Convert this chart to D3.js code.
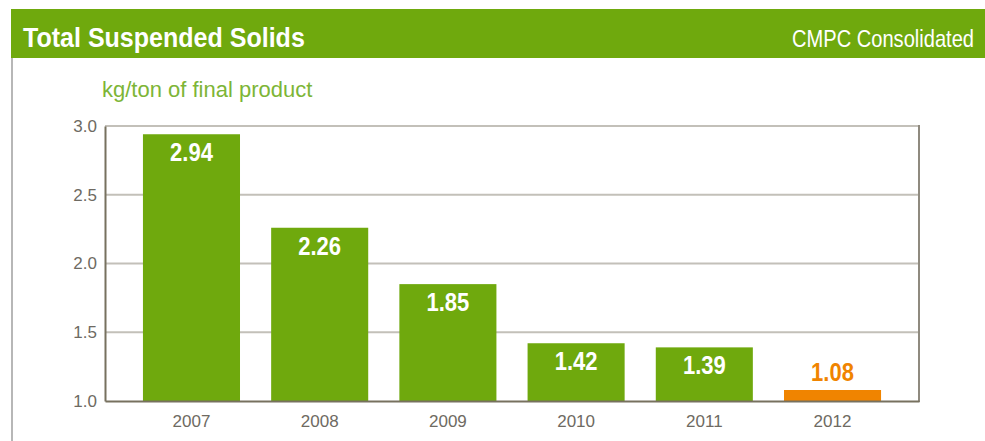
<!DOCTYPE html>
<html>
<head>
<meta charset="utf-8">
<script src="https://cdn.jsdelivr.net/npm/d3@7/dist/d3.min.js"></script>
<style>
  html, body { margin: 0; padding: 0; background: #fff; }
  svg { display: block; }
</style>
</head>
<body>
<svg id="chart" width="985" height="441"></svg>
<script>
const title = "Total Suspended Solids";
const subtitleRight = "CMPC Consolidated";
const unitLabel = "kg/ton of final product";
const years = ["2007", "2008", "2009", "2010", "2011", "2012"];
const values = [2.94, 2.26, 1.85, 1.42, 1.39, 1.08];
const highlight = ["2012"];
const yTicks = [1.0, 1.5, 2.0, 2.5, 3.0];

const green = "#6fa90d";
const orange = "#f08400";
const svg = d3.select("#chart");

// fit a text horizontally to a target width by scaling
function fitText(sel, anchorX, baseY, targetW, anchor) {
  sel.attr("text-anchor", anchor);
  const w = sel.node().getComputedTextLength();
  const k = Math.min(1, targetW / w);
  sel.attr("transform", `translate(${anchorX},${baseY}) scale(${k},1)`);
}

// header band
svg.append("rect").attr("x", 11).attr("y", 9).attr("width", 974).attr("height", 49).attr("fill", green);
svg.append("line").attr("x1", 12).attr("x2", 12).attr("y1", 58).attr("y2", 441)
  .attr("stroke", "#b7b7b7").attr("stroke-width", 2);
const tTitle = svg.append("text").text(title)
  .attr("fill", "#fff").attr("font-family", "'Liberation Sans', sans-serif")
  .attr("font-weight", "bold").attr("font-size", 28);
fitText(tTitle, 23, 47, 282, "start");
const tRight = svg.append("text").text(subtitleRight)
  .attr("fill", "#fff").attr("font-family", "'Liberation Sans', sans-serif")
  .attr("font-size", 24);
fitText(tRight, 974, 47, 182, "end");
const tUnit = svg.append("text").text(unitLabel)
  .attr("fill", "#7db536").attr("font-family", "'Liberation Sans', sans-serif")
  .attr("font-size", 22);
fitText(tUnit, 102, 97, 213, "start");

const mLeft = 105, mRight = 919, mTop = 126, mBottom = 401;
const x = d3.scaleBand().domain(years).range([mLeft, mRight]).paddingInner(0.243).paddingOuter(0.296);
const y = d3.scaleLinear().domain([1.0, 3.0]).range([mBottom, mTop]);

// gridlines
svg.append("g").selectAll("line").data(yTicks.filter(t => t > 1.0)).join("line")
  .attr("x1", mLeft).attr("x2", mRight).attr("y1", d => y(d)).attr("y2", d => y(d))
  .attr("stroke", "#c3c0b9").attr("stroke-width", 2);

// right border
svg.append("line").attr("x1", mRight).attr("x2", mRight).attr("y1", mTop - 1).attr("y2", mBottom + 1)
  .attr("stroke", "#8f8a7f").attr("stroke-width", 2);

// bars
svg.append("g").selectAll("rect").data(years).join("rect")
  .attr("x", d => x(d)).attr("width", x.bandwidth())
  .attr("y", (d, i) => y(values[i])).attr("height", (d, i) => y(1.0) - y(values[i]))
  .attr("fill", d => highlight.includes(d) ? orange : green);

// value labels
svg.append("g").selectAll("text").data(years).join("text")
  .attr("transform", (d, i) => {
    const cx = x(d) + x.bandwidth() / 2;
    const cy = highlight.includes(d) ? y(values[i]) - 9 : y(values[i]) + 27;
    return `translate(${cx},${cy}) scale(0.88,1)`;
  })
  .attr("text-anchor", "middle")
  .attr("fill", d => highlight.includes(d) ? orange : "#fff")
  .attr("font-family", "'Liberation Sans', sans-serif")
  .attr("font-weight", "bold").attr("font-size", 25)
  .text((d, i) => values[i].toFixed(2));

// axes
const yAxis = d3.axisLeft(y).tickValues(yTicks).tickFormat(d3.format(".1f")).tickSize(0).tickPadding(8);
const gy = svg.append("g").attr("transform", `translate(${mLeft},0)`).call(yAxis);
gy.select(".domain").attr("stroke", "#77715f").attr("stroke-width", 2);
gy.selectAll("text").attr("fill", "#6e6a62").attr("font-family", "'Liberation Sans', sans-serif").attr("font-size", 17);

const xAxis = d3.axisBottom(x).tickSize(0).tickPadding(14);
const gx = svg.append("g").attr("transform", `translate(0,${mBottom})`).call(xAxis);
gx.select(".domain").attr("stroke", "#77715f").attr("stroke-width", 2);
gx.selectAll("text").attr("fill", "#6e6a62").attr("font-family", "'Liberation Sans', sans-serif").attr("font-size", 17);
</script>
</body>
</html>
